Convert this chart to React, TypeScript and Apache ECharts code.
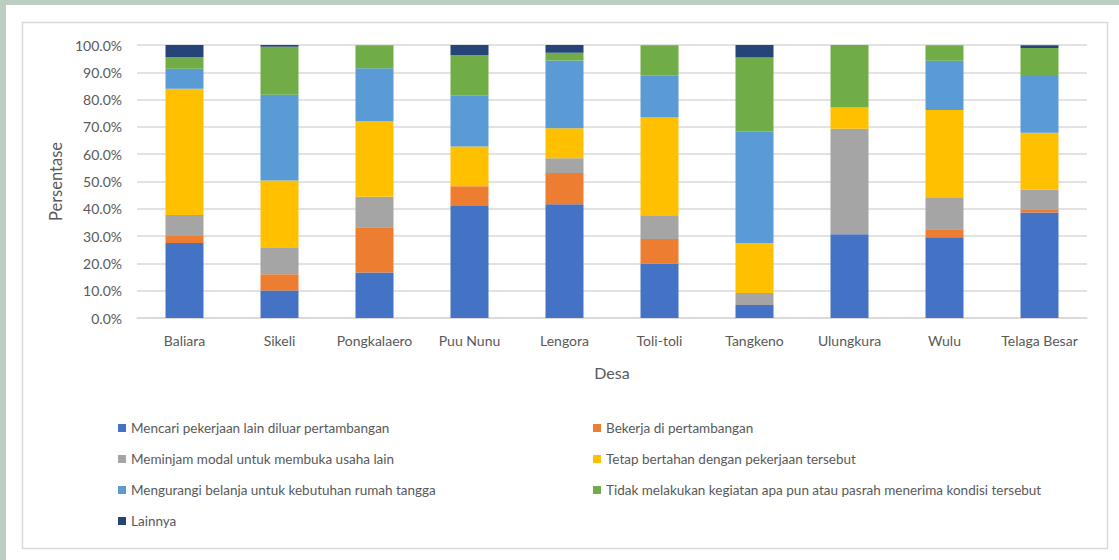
import React, { useEffect, useRef } from "react";
import * as echarts from "echarts";

const categories = ["Baliara", "Sikeli", "Pongkalaero", "Puu Nunu", "Lengora", "Toli-toli", "Tangkeno", "Ulungkura", "Wulu", "Telaga Besar"];

const seriesNames = [
  "Mencari pekerjaan lain diluar pertambangan",
  "Bekerja di pertambangan",
  "Meminjam modal untuk membuka usaha lain",
  "Tetap bertahan dengan pekerjaan tersebut",
  "Mengurangi belanja untuk kebutuhan rumah tangga",
  "Tidak melakukan kegiatan apa pun atau pasrah menerima kondisi tersebut",
  "Lainnya",
];

const mencari = [27.5, 10.1, 16.7, 41.0, 41.7, 20.0, 4.8, 30.7, 29.6, 38.6];
const bekerja = [2.8, 5.9, 16.5, 7.3, 11.4, 8.9, 0, 0, 2.9, 1.2];
const meminjam = [7.4, 9.6, 11.2, 0, 5.4, 8.7, 4.4, 38.6, 11.7, 7.2];
const tetap = [46.3, 24.8, 27.8, 14.5, 11.0, 35.8, 18.2, 7.8, 32.0, 20.9];
const mengurangi = [7.3, 31.4, 19.3, 18.6, 24.8, 15.3, 41.0, 0, 18.0, 21.1];
const tidak = [4.3, 17.6, 8.4, 14.9, 2.9, 11.2, 27.0, 22.9, 5.7, 9.9];
const lainnya = [4.4, 0.6, 0, 3.7, 2.8, 0, 4.6, 0, 0, 1.0];

const colors = ["#4472C4", "#ED7D31", "#A5A5A5", "#FFC000", "#5B9BD5", "#70AD47", "#264478"];

const FONT = "Lato";
const TEXT = "#595959";

export default function App() {
  const ref = useRef<HTMLDivElement>(null);
  useEffect(() => {
    if (!ref.current) return;
    const chart = echarts.init(ref.current, null, { renderer: "svg" });
    const allData = [mencari, bekerja, meminjam, tetap, mengurangi, tidak, lainnya];
    const legendStyle = {
      orient: "vertical" as const,
      top: 415,
      icon: "rect",
      itemWidth: 8,
      itemHeight: 8,
      itemGap: 15,
      textStyle: { fontSize: 13.5, lineHeight: 16, color: TEXT, fontFamily: FONT },
    };
    chart.setOption({
      animation: false,
      color: colors,
      textStyle: { fontFamily: FONT },
      graphic: [
        {
          type: "rect",
          shape: { x: 22.5, y: 22.5, width: 1085, height: 526 },
          style: { fill: "none", stroke: "#d9d9d9", lineWidth: 1.5 },
          silent: true,
        },
      ],
      grid: { left: 137, right: 32, top: 45, bottom: 242 },
      legend: [
        { ...legendStyle, left: 113, data: [seriesNames[0], seriesNames[2], seriesNames[4], seriesNames[6]] },
        { ...legendStyle, left: 588, data: [seriesNames[1], seriesNames[3], seriesNames[5]] },
      ],
      xAxis: {
        type: "category",
        data: categories,
        name: "Desa",
        nameLocation: "middle",
        nameGap: 46,
        nameTextStyle: { fontSize: 16, color: TEXT, fontFamily: FONT },
        axisLine: { lineStyle: { color: "#d9d9d9", width: 1.5 } },
        axisTick: { show: false },
        axisLabel: { fontSize: 14, color: TEXT, margin: 15, interval: 0, fontFamily: FONT },
      },
      yAxis: {
        type: "value",
        min: 0,
        max: 100,
        interval: 10,
        name: "Persentase",
        nameLocation: "middle",
        nameGap: 69,
        nameTextStyle: { fontSize: 16.5, color: TEXT, fontFamily: FONT },
        axisLine: { show: false },
        axisTick: { show: false },
        splitLine: { lineStyle: { color: "#d9d9d9", width: 1.5 } },
        axisLabel: {
          fontSize: 14,
          color: TEXT,
          margin: 15,
          fontFamily: FONT,
          formatter: (v: number) => v.toFixed(1) + "%",
        },
      },
      series: seriesNames.map((name, i) => ({
        name,
        type: "bar",
        stack: "total",
        barWidth: 38,
        data: allData[i],
      })),
    });
    return () => chart.dispose();
  }, []);
  return (
    <div style={{ position: "fixed", left: 0, top: 0, width: 1119, height: 560, background: "#bccdc2" }}>
      <div style={{ position: "absolute", left: 6, top: 5, width: 1113, height: 555, background: "#ffffff" }} />
      <div ref={ref} style={{ position: "absolute", left: 0, top: 0, width: 1119, height: 560 }} />
    </div>
  );
}
